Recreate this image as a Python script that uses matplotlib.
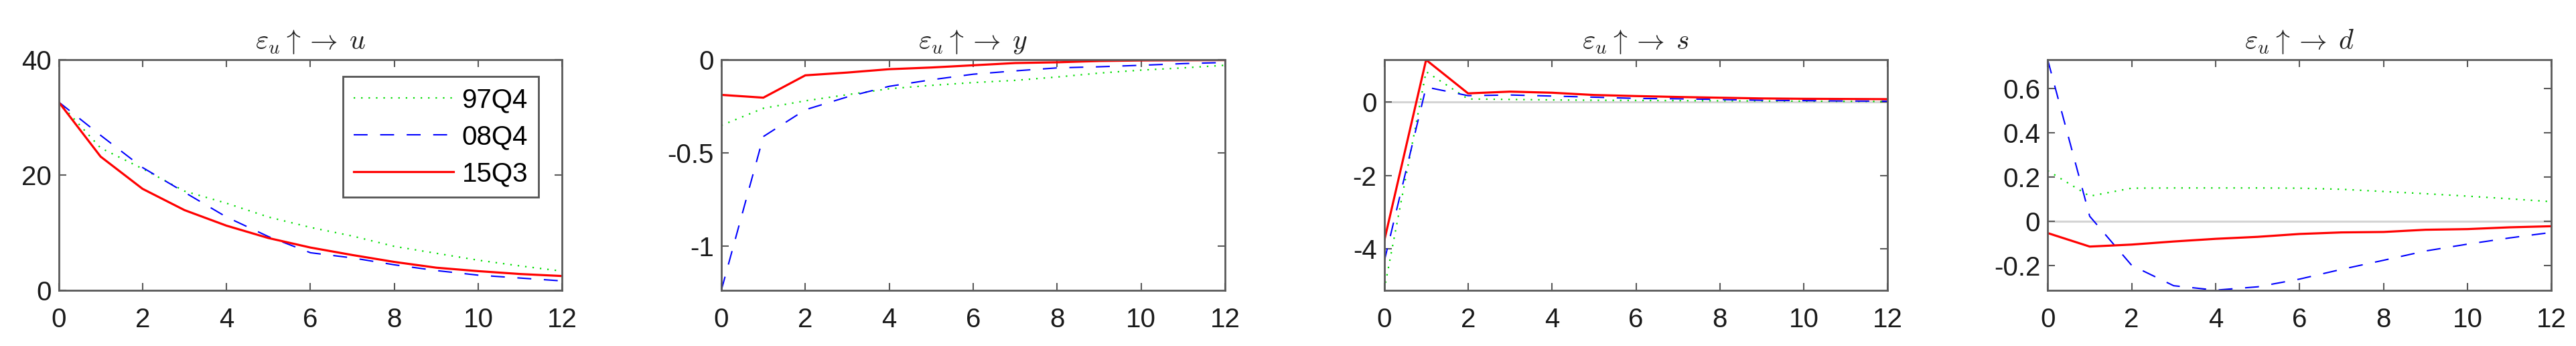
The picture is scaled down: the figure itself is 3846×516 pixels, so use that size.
import matplotlib
matplotlib.use("Agg")
import matplotlib.pyplot as plt
import numpy as np

# ---------------- data ----------------
horizon = list(range(13))
series_names = ["97Q4", "08Q4", "15Q3"]

# shock eps_u -> u
u_97Q4 = [32.7, 24.7, 21.1, 17.2, 15.1, 12.7, 10.9, 9.4, 7.6, 6.4, 5.2, 4.2, 3.3]
u_08Q4 = [32.7, 26.9, 21.3, 17.0, 12.7, 9.3, 6.5, 5.6, 4.4, 3.4, 2.6, 2.1, 1.6]
u_15Q3 = [32.7, 23.2, 17.6, 13.9, 11.2, 9.05, 7.4, 6.1, 4.9, 3.9, 3.3, 2.8, 2.45]

# shock eps_u -> y
y_97Q4 = [-0.352, -0.260, -0.220, -0.187, -0.155, -0.137, -0.122, -0.110, -0.092, -0.071, -0.055, -0.043, -0.029]
y_08Q4 = [-1.237, -0.412, -0.268, -0.199, -0.142, -0.107, -0.077, -0.059, -0.043, -0.037, -0.029, -0.020, -0.014]
y_15Q3 = [-0.188, -0.203, -0.083, -0.068, -0.050, -0.041, -0.029, -0.017, -0.013, -0.006, -0.003, -0.002, -0.001]

# shock eps_u -> s
s_97Q4 = [-5.13, 0.83, 0.085, 0.073, 0.06, 0.05, 0.045, 0.04, 0.035, 0.03, 0.025, 0.02, 0.018]
s_08Q4 = [-4.36, 0.41, 0.176, 0.194, 0.165, 0.134, 0.10, 0.09, 0.07, 0.05, 0.04, 0.03, 0.025]
s_15Q3 = [-3.80, 1.152, 0.238, 0.286, 0.256, 0.194, 0.165, 0.14, 0.12, 0.10, 0.09, 0.085, 0.08]

# shock eps_u -> d
d_97Q4 = [0.228, 0.113, 0.149, 0.150, 0.150, 0.150, 0.149, 0.144, 0.134, 0.124, 0.113, 0.101, 0.088]
d_08Q4 = [0.729, 0.022, -0.200, -0.292, -0.312, -0.297, -0.262, -0.218, -0.177, -0.135, -0.104, -0.076, -0.051]
d_15Q3 = [-0.054, -0.115, -0.106, -0.092, -0.080, -0.071, -0.058, -0.051, -0.049, -0.039, -0.036, -0.028, -0.023]

panel_vars = ["u", "y", "s", "d"]
panel_data = [
    (u_97Q4, u_08Q4, u_15Q3),
    (y_97Q4, y_08Q4, y_15Q3),
    (s_97Q4, s_08Q4, s_15Q3),
    (d_97Q4, d_08Q4, d_15Q3),
]
x_ticks = [0, 2, 4, 6, 8, 10, 12]
y_ticks = [
    [0, 20, 40],
    [-1, -0.5, 0],
    [-4, -2, 0],
    [-0.2, 0, 0.2, 0.4, 0.6],
]
y_ticklabels = [
    ["0", "20", "40"],
    ["-1", "-0.5", "0"],
    ["-4", "-2", "0"],
    ["-0.2", "0", "0.2", "0.4", "0.6"],
]
y_limits = [(0, 40), None, None, None]

# ---------------- style ----------------
plt.rcParams["font.family"] = ["Liberation Sans", "DejaVu Sans"]
plt.rcParams["mathtext.fontset"] = "cm"

W, H = 3846, 516
fig = plt.figure(figsize=(W / 100, H / 100), dpi=100)

lefts_px = [87.5, 1077.0, 2066.5, 3057.3]
width_px = 752.0
bottom_px = 432.7
top_px = 89.3

styles = [
    dict(color="#00dd00", lw=1.6, dashes=(1, 4)),
    dict(color="#0000ff", lw=1.5, dashes=(10, 9)),
    dict(color="#ff0000", lw=2.3, linestyle="-"),
]
spine_color = "#5a5a5a"

for i, (var, data) in enumerate(zip(panel_vars, panel_data)):
    ax = fig.add_axes([lefts_px[i] / W, 1 - bottom_px / H, width_px / W, (bottom_px - top_px) / H])
    ax.axhline(0, color="#d4d4d4", lw=2.2, zorder=1)
    for name, vals, st in zip(series_names, data, styles):
        ax.plot(horizon, vals, label=name, zorder=3, **st)
    ax.set_xlim(0, 12)
    if y_limits[i] is not None:
        ax.set_ylim(*y_limits[i])
    else:
        allv = np.concatenate([np.asarray(v) for v in data])
        ax.set_ylim(allv.min(), allv.max())
    ax.set_xticks(x_ticks)
    ax.set_xticklabels([str(t) for t in x_ticks])
    ax.set_yticks(y_ticks[i])
    ax.set_yticklabels(y_ticklabels[i])
    ax.tick_params(direction="in", length=8, width=1.5, colors=spine_color,
                   labelcolor="#1a1a1a", labelsize=29, top=True, right=True)
    ax.tick_params(axis="x", pad=18)
    ax.tick_params(axis="y", pad=8)
    for sp in ax.spines.values():
        sp.set_color(spine_color)
        sp.set_linewidth(2.0)
        sp.set_zorder(5)
    ax.set_title(r"$\varepsilon_u\uparrow\rightarrow\;%s$" % var, fontsize=30, pad=12, color="#222222")
    if i == 0:
        leg = ax.legend(loc="upper right", bbox_to_anchor=(0.953, 0.928), fontsize=29,
                        handlelength=3.7, handletextpad=0.3, labelspacing=0.42,
                        borderpad=0.4, borderaxespad=0.0, fancybox=False, framealpha=1)
        leg.get_frame().set_edgecolor("#555555")
        leg.get_frame().set_linewidth(2.0)

fig.savefig("out.png", dpi=100)
